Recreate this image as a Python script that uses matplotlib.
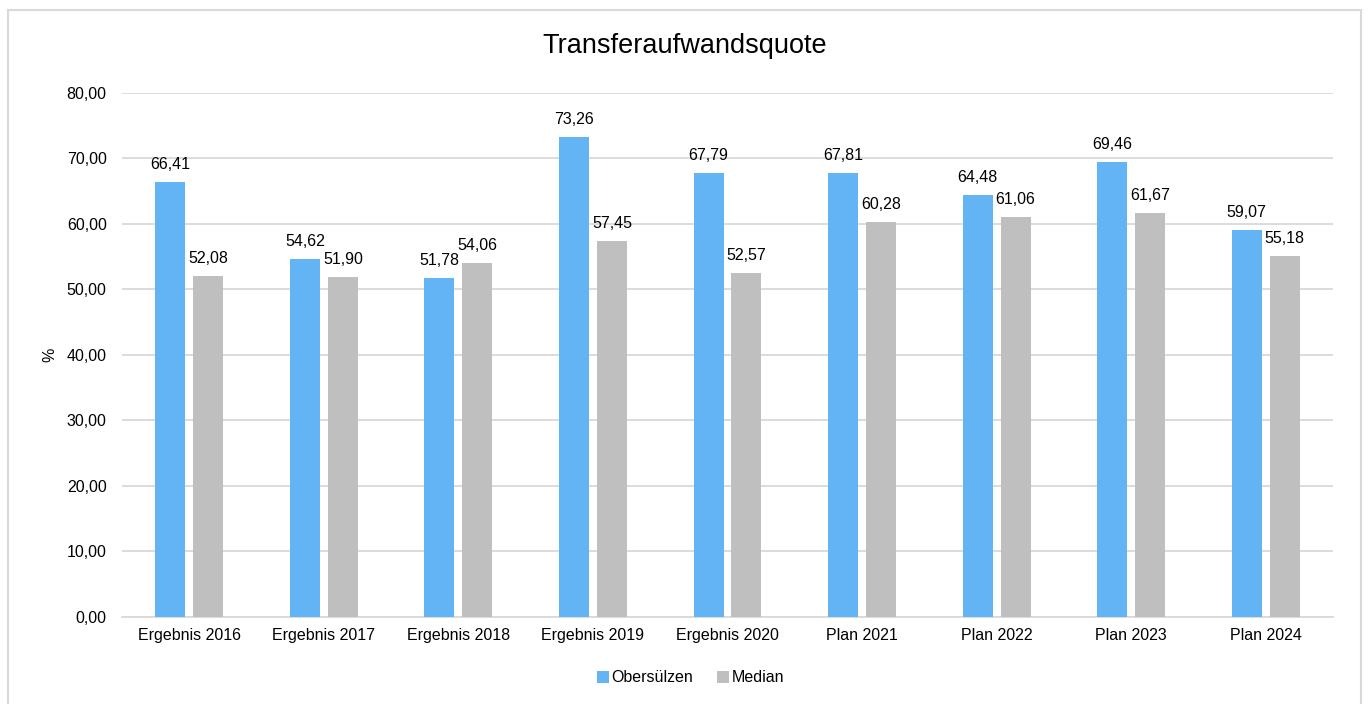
import matplotlib.pyplot as plt
import numpy as np
from matplotlib.patches import Rectangle

plt.rcParams['font.family'] = ['Liberation Sans', 'DejaVu Sans']

categories = ['Ergebnis 2016', 'Ergebnis 2017', 'Ergebnis 2018', 'Ergebnis 2019',
              'Ergebnis 2020', 'Plan 2021', 'Plan 2022', 'Plan 2023', 'Plan 2024']
obersuelzen = [66.41, 54.62, 51.78, 73.26, 67.79, 67.81, 64.48, 69.46, 59.07]
median = [52.08, 51.90, 54.06, 57.45, 52.57, 60.28, 61.06, 61.67, 55.18]

fig = plt.figure(figsize=(13.68, 7.04), dpi=100)
ax = fig.add_axes([0.0892, 0.1236, 0.8852, 0.7443])

# chart border
fig.patches.append(Rectangle((8 / 1368, -0.01), 1353 / 1368, 1 - 10 / 704 + 0.01,
                             transform=fig.transFigure, fill=False,
                             edgecolor='#d9d9d9', linewidth=1.5))

x = np.arange(len(categories))
w = 0.223
off = 0.141
b1 = ax.bar(x - off, obersuelzen, w, color='#63b4f5', label='Obersülzen', zorder=3)
b2 = ax.bar(x + off, median, w, color='#bfbfbf', label='Median', zorder=3)

fmt = lambda v: f'{v:.2f}'.replace('.', ',')
for bars, vals in ((b1, obersuelzen), (b2, median)):
    for b, v in zip(bars, vals):
        ax.text(b.get_x() + b.get_width() / 2, v + 1.5, fmt(v),
                ha='center', va='bottom', fontsize=11.5, color='#000000')

ax.set_xlim(-0.5, len(categories) - 0.5)
ax.set_ylim(0, 80)
ax.set_yticks(np.arange(0, 81, 10))
ax.set_yticklabels([fmt(t) for t in np.arange(0, 81, 10)])
ax.set_xticks(x)
ax.set_xticklabels(categories)
ax.tick_params(axis='both', length=0, labelsize=11.5, colors='#000000')
ax.tick_params(axis='y', pad=11)
ax.tick_params(axis='x', pad=8)
ax.yaxis.grid(True, color='#d9d9d9', linewidth=1.3, zorder=0)
for s in ['top', 'right', 'left']:
    ax.spines[s].set_visible(False)
ax.spines['bottom'].set_color('#d9d9d9')
ax.spines['bottom'].set_linewidth(1.3)

ax.set_ylabel('%', fontsize=11.5, labelpad=7)
fig.text(0.5 * (8 + 1361) / 1368, 1 - 46 / 704, 'Transferaufwandsquote',
         ha='center', va='center', fontsize=19.5)

fig.legend(loc='center', bbox_to_anchor=(0.505, 1 - 678 / 704), ncol=2, frameon=False,
           fontsize=11.5, handlelength=0.7, handleheight=0.7, handletextpad=0.2,
           columnspacing=1.5)

fig.savefig('out.png', dpi=100)
